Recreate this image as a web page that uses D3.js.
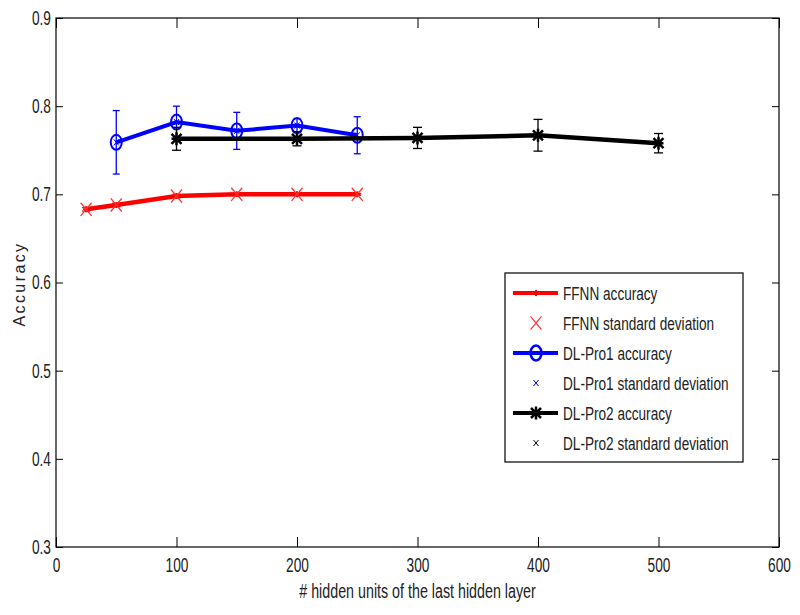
<!DOCTYPE html>
<html>
<head>
<meta charset="utf-8">
<script src="https://cdn.jsdelivr.net/npm/d3@7"></script>
<style>
  body { margin: 0; background: #fff; }
  .tick text { font-family: "Liberation Sans", Arial, sans-serif; font-size: 19px; fill: #222; }
  .tick line { stroke: #000; }
</style>
</head>
<body>
<div id="chart"></div>
<script>
// FFNN
const ffnnX = [25, 50, 100, 150, 200, 250];
const ffnnAcc = [0.683, 0.688, 0.698, 0.700, 0.700, 0.700];
const ffnnStd = [0.002, 0.002, 0.002, 0.001, 0.001, 0.001];
// DL-Pro1
const pro1X = [50, 100, 150, 200, 250];
const pro1Acc = [0.759, 0.782, 0.772, 0.778, 0.767];
const pro1Std = [0.036, 0.018, 0.021, 0.008, 0.021];
// DL-Pro2
const pro2X = [100, 200, 300, 400, 500];
const pro2Acc = [0.763, 0.763, 0.764, 0.767, 0.758];
const pro2Std = [0.013, 0.008, 0.012, 0.018, 0.011];

const xTicks = [0, 100, 200, 300, 400, 500, 600];
const yTicks = [0.3, 0.4, 0.5, 0.6, 0.7, 0.8, 0.9];
const legendLabels = ["FFNN accuracy", "FFNN standard deviation", "DL-Pro1 accuracy",
  "DL-Pro1 standard deviation", "DL-Pro2 accuracy", "DL-Pro2 standard deviation"];

const W = 800, H = 615;
const margin = {left: 56, right: 779, top: 18, bottom: 547};
const narrow = "scale(0.72,1.05)"; // squeeze text like the MATLAB export

const svg = d3.select("#chart").append("svg")
    .attr("width", W).attr("height", H);

const x = d3.scaleLinear().domain([0, 600]).range([margin.left, margin.right]);
const y = d3.scaleLinear().domain([0.3, 0.9]).range([margin.bottom, margin.top]);

// axes (ticks pointing inward, MATLAB style)
svg.append("g").attr("transform", `translate(0,${margin.bottom})`)
    .call(d3.axisBottom(x).tickValues(xTicks).tickSizeInner(-10).tickSizeOuter(0).tickPadding(10))
    .call(g => g.select(".domain").remove())
    .call(g => g.selectAll("text").attr("transform", narrow));
svg.append("g").attr("transform", `translate(0,${margin.top})`)
    .call(d3.axisTop(x).tickValues(xTicks).tickSizeInner(-10).tickSizeOuter(0).tickFormat(""))
    .call(g => g.select(".domain").remove());
svg.append("g").attr("transform", `translate(${margin.left},0)`)
    .call(d3.axisLeft(y).tickValues(yTicks).tickSizeInner(-7).tickSizeOuter(0).tickPadding(7).tickFormat(d3.format(".1f")))
    .call(g => g.select(".domain").remove())
    .call(g => g.selectAll("text").attr("transform", narrow));
svg.append("g").attr("transform", `translate(${margin.right},0)`)
    .call(d3.axisRight(y).tickValues(yTicks).tickSizeInner(-7).tickSizeOuter(0).tickFormat(""))
    .call(g => g.select(".domain").remove());

svg.append("rect")
    .attr("x", margin.left).attr("y", margin.top)
    .attr("width", margin.right - margin.left).attr("height", margin.bottom - margin.top)
    .attr("fill", "none").attr("stroke", "#000").attr("stroke-width", 1.2);

// axis labels
svg.append("text")
    .attr("transform", `translate(${(margin.left + margin.right) / 2},598) scale(0.84,1.15)`)
    .attr("text-anchor", "middle")
    .style("font-family", "'Liberation Sans', Arial, sans-serif")
    .style("font-size", "17px").style("fill", "#222")
    .text("# hidden units of the last hidden layer");
svg.append("text")
    .attr("transform", "translate(25,284) rotate(-90)")
    .attr("text-anchor", "middle")
    .style("font-family", "'Liberation Sans', Arial, sans-serif")
    .style("font-size", "16px").style("letter-spacing", "2.4px").style("fill", "#222")
    .text("Accuracy");

const line = d3.line().x(d => x(d[0])).y(d => y(d[1]));

function drawErrorBars(xs, acc, sd, color, cap) {
    const g = svg.append("g").attr("stroke", color).attr("stroke-width", 1.3);
    xs.forEach((xv, i) => {
        const cx = x(xv), y0 = y(acc[i] - sd[i]), y1 = y(acc[i] + sd[i]);
        g.append("line").attr("x1", cx).attr("x2", cx).attr("y1", y0).attr("y2", y1);
        g.append("line").attr("x1", cx - cap).attr("x2", cx + cap).attr("y1", y0).attr("y2", y0);
        g.append("line").attr("x1", cx - cap).attr("x2", cx + cap).attr("y1", y1).attr("y2", y1);
    });
}

function xMark(g, cx, cy, s, color, w) {
    g.append("path")
        .attr("d", `M${cx - s},${cy - s * 1.2}L${cx + s},${cy + s * 1.2}M${cx - s},${cy + s * 1.2}L${cx + s},${cy - s * 1.2}`)
        .attr("stroke", color).attr("stroke-width", w).attr("fill", "none");
}
function plusMark(g, cx, cy, s, color, w) {
    g.append("path")
        .attr("d", `M${cx - s},${cy}L${cx + s},${cy}M${cx},${cy - s}L${cx},${cy + s}`)
        .attr("stroke", color).attr("stroke-width", w).attr("fill", "none");
}
function starMark(g, cx, cy, s, color, w) {
    g.append("path")
        .attr("d", `M${cx},${cy - s * 1.3}L${cx},${cy + s * 1.3}M${cx - s},${cy - s}L${cx + s},${cy + s}M${cx - s},${cy + s}L${cx + s},${cy - s}M${cx - s},${cy}L${cx + s},${cy}`)
        .attr("stroke", color).attr("stroke-width", w).attr("fill", "none");
}
function circleMark(g, cx, cy, color, w) {
    g.append("ellipse").attr("cx", cx).attr("cy", cy).attr("rx", 5.5).attr("ry", 7.5)
        .attr("fill", "none").attr("stroke", color).attr("stroke-width", w);
}

// FFNN
svg.append("path").datum(d3.zip(ffnnX, ffnnAcc)).attr("d", line)
    .attr("fill", "none").attr("stroke", "#ff0000").attr("stroke-width", 4.5);
drawErrorBars(ffnnX, ffnnAcc, ffnnStd, "#ff0000", 4);
const gR = svg.append("g");
ffnnX.forEach((xv, i) => {
    plusMark(gR, x(xv), y(ffnnAcc[i]), 3, "#ff0000", 2);
    xMark(gR, x(xv), y(ffnnAcc[i]), 5.5, "#ff3333", 1.3);
});

// DL-Pro1
svg.append("path").datum(d3.zip(pro1X, pro1Acc)).attr("d", line)
    .attr("fill", "none").attr("stroke", "#0000ff").attr("stroke-width", 4);
drawErrorBars(pro1X, pro1Acc, pro1Std, "#0000ff", 3.5);
const gB = svg.append("g");
pro1X.forEach((xv, i) => {
    circleMark(gB, x(xv), y(pro1Acc[i]), "#0000ff", 2);
    xMark(gB, x(xv), y(pro1Acc[i]), 2.5, "#0000ff", 1);
});

// DL-Pro2
svg.append("path").datum(d3.zip(pro2X, pro2Acc)).attr("d", line)
    .attr("fill", "none").attr("stroke", "#000").attr("stroke-width", 4.5);
drawErrorBars(pro2X, pro2Acc, pro2Std, "#000", 4.5);
const gK = svg.append("g");
pro2X.forEach((xv, i) => {
    starMark(gK, x(xv), y(pro2Acc[i]), 5, "#000", 2.5);
    xMark(gK, x(xv), y(pro2Acc[i]), 2.5, "#000", 1);
});

// legend
const lg = svg.append("g");
lg.append("rect").attr("x", 505).attr("y", 273).attr("width", 238).attr("height", 189)
    .attr("fill", "#fff").attr("stroke", "#000").attr("stroke-width", 1.2);
const rowY = i => 293 + i * 30;
const colors = ["#ff0000", "#ff3333", "#0000ff", "#0000ff", "#000", "#000"];
legendLabels.forEach((lab, i) => {
    const cy = rowY(i), cx = 536;
    if (i % 2 === 0) {
        lg.append("line").attr("x1", 513).attr("x2", 558).attr("y1", cy).attr("y2", cy)
            .attr("stroke", colors[i]).attr("stroke-width", 4);
        if (i === 0) plusMark(lg, cx, cy, 3, colors[i], 2);
        if (i === 2) circleMark(lg, cx, cy, colors[i], 2.5);
        if (i === 4) starMark(lg, cx, cy, 5, colors[i], 2.5);
    } else {
        xMark(lg, cx, cy, i === 1 ? 5.5 : 2.5, colors[i], i === 1 ? 1.2 : 1);
    }
    lg.append("text").attr("transform", `translate(563,${cy}) scale(0.8,1.1)`).attr("dy", "0.36em")
        .style("font-family", "'Liberation Sans', Arial, sans-serif")
        .style("font-size", "17px").style("fill", "#222")
        .text(lab);
});
</script>
</body>
</html>
